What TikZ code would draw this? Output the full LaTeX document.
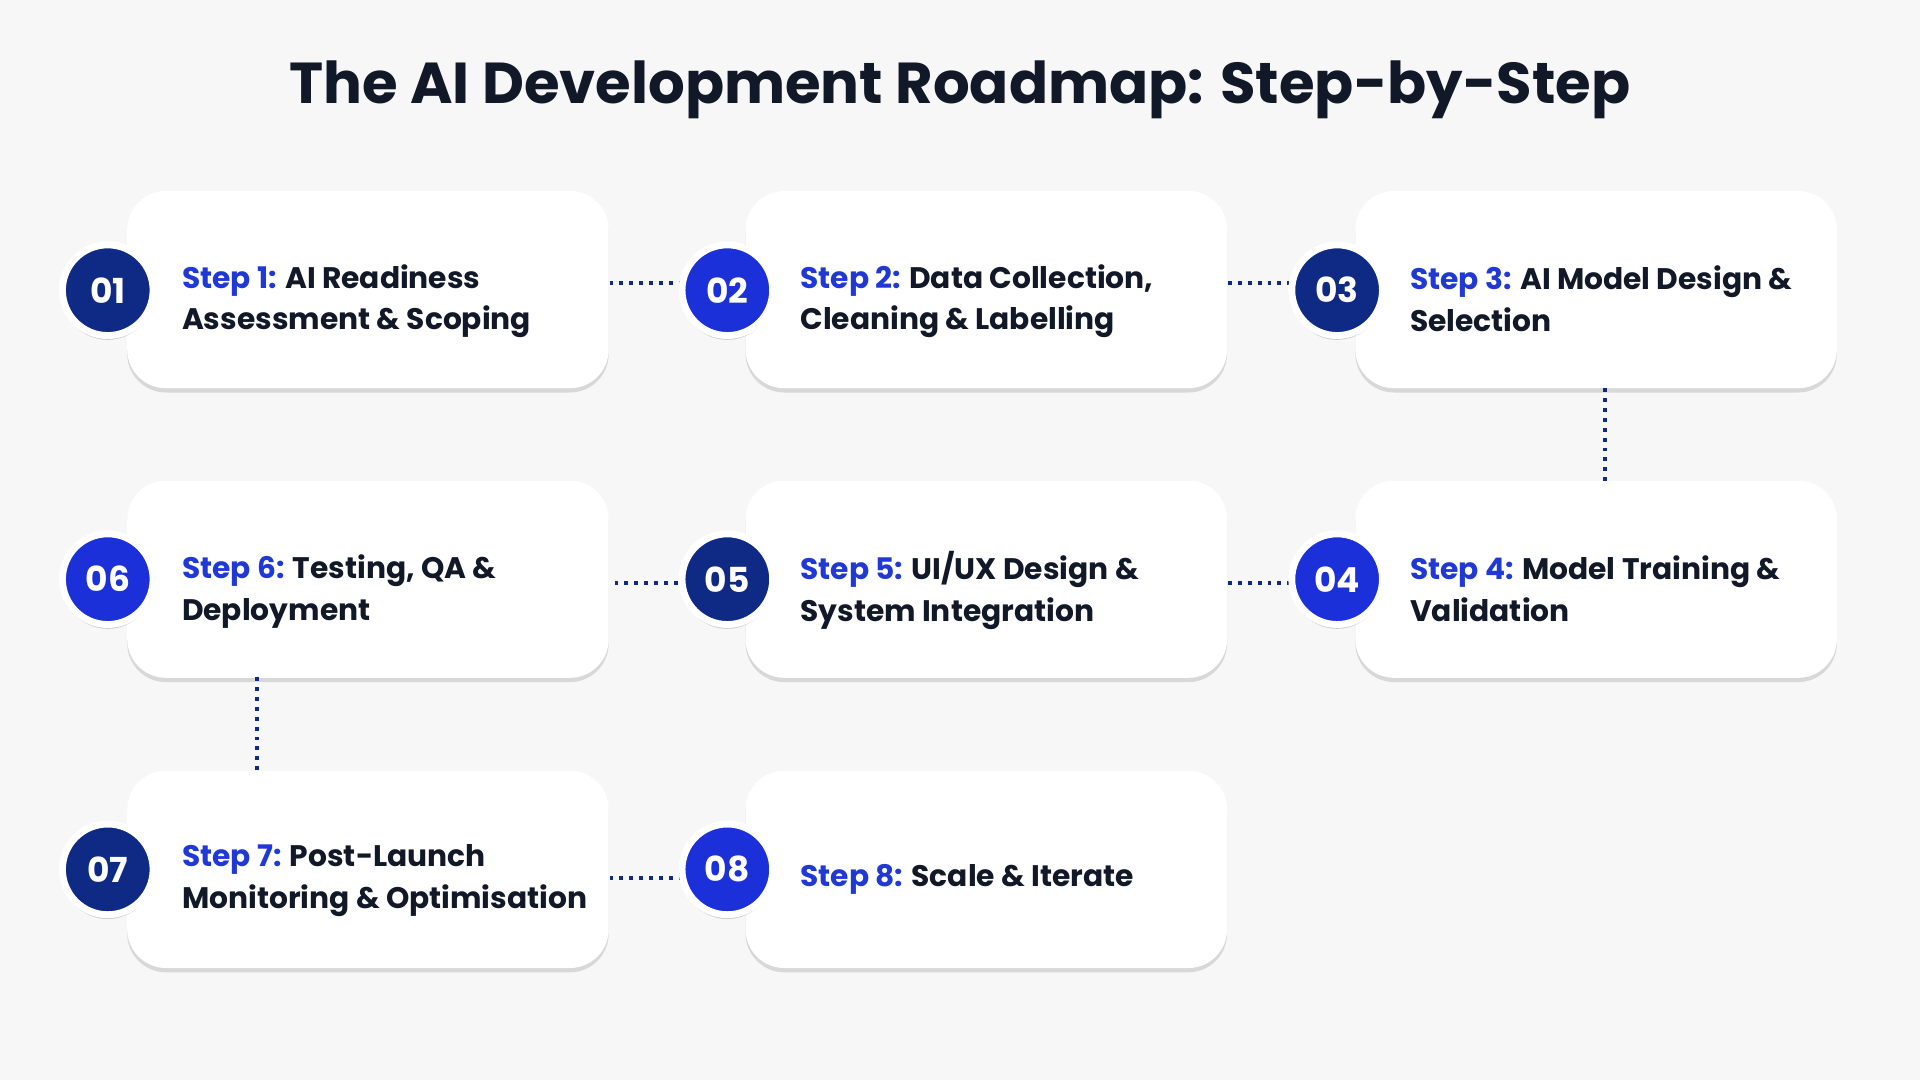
\documentclass[tikz,border=0pt]{standalone}
\usepackage{fontspec}
\setmainfont{Poppins}
\usetikzlibrary{shadows}
\definecolor{bg}{HTML}{F7F7F8}
\definecolor{navy}{HTML}{0E2A84}
\definecolor{bright}{HTML}{1B30D8}
\definecolor{stepblue}{HTML}{2139D4}
\definecolor{ink}{HTML}{111827}
\begin{document}
\begin{tikzpicture}[x=0.01cm,y=-0.01cm,
 card/.style={fill=white,rounded corners=9pt,minimum width=3.93cm,minimum height=1.61cm,inner sep=0,
   drop shadow={shadow xshift=0pt,shadow yshift=-1pt,opacity=0.12,fill=black}},
 num/.style={circle,minimum size=0.74cm,inner sep=0,draw=white,line width=1.6pt,text=white,
   font=\fontsize{8}{8}\selectfont\bfseries,drop shadow={shadow xshift=0pt,shadow yshift=-1pt,opacity=0.18,fill=black}},
 dk/.style={num,fill=navy}, br/.style={num,fill=bright},
 lbl/.style={anchor=west,align=left,inner sep=0,text=ink,font=\fontsize{6.9}{9.7}\selectfont\bfseries},
 link/.style={draw=navy,line width=0.9pt,dash pattern=on 0.9pt off 1.4pt}]
\fill[bg] (0,0) rectangle (1568,882);
\node[text=ink,font=\fontsize{13.4}{16}\selectfont\bfseries] (title) at (784,73) {The AI Development Roadmap: Step-by-Step};
% cards
\node[card] (c1) at (300.5,236.5) {};
\node[card] (c2) at (805.5,236.5) {};
\node[card] (c3) at (1303.5,236.5) {};
\node[card] (c6) at (300.5,473) {};
\node[card] (c5) at (805.5,473) {};
\node[card] (c4) at (1303.5,473) {};
\node[card] (c7) at (300.5,710) {};
\node[card] (c8) at (805.5,710) {};
% connectors
\coordinate (v3) at (1311,317); \coordinate (v4) at (1311,393);
\coordinate (v6) at (210,553); \coordinate (v7) at (210,630);
\draw[link] (v3) -- (v4);
\draw[link] (v6) -- (v7);
\draw[link] (c1.east |- 0,231) -- (594,231);
\draw[link] (c2.east |- 0,231) -- (1092,231);
\draw[link] (c5.east |- 0,476) -- (1092,476);
\draw[link] (594,476) -- (c6.east |- 0,476);
\draw[link] (c7.east |- 0,717) -- (594,717);
% circles
\node[dk] (n1) at (88,237) {01};
\node[br] (n2) at (594,237) {02};
\node[dk] (n3) at (1092,237) {03};
\node[br] (n4) at (1092,473) {04};
\node[dk] (n5) at (594,473) {05};
\node[br] (n6) at (88,473) {06};
\node[dk] (n7) at (88,710) {07};
\node[br] (n8) at (594,710) {08};
% labels
\node[lbl] (t1) at (148,246) {\textcolor{stepblue}{Step 1:} AI Readiness\\Assessment \& Scoping};
\node[lbl] (t2) at (653,246) {\textcolor{stepblue}{Step 2:} Data Collection,\\Cleaning \& Labelling};
\node[lbl] (t3) at (1151,244) {\textcolor{stepblue}{Step 3:} AI Model Design \&\\Selection};
\node[lbl] (t4) at (1151,481) {\textcolor{stepblue}{Step 4:} Model Training \&\\Validation};
\node[lbl] (t5) at (653,482) {\textcolor{stepblue}{Step 5:} UI/UX Design \&\\System Integration};
\node[lbl] (t6) at (148,483) {\textcolor{stepblue}{Step 6:} Testing, QA \&\\Deployment};
\node[lbl] (t7) at (148,719) {\textcolor{stepblue}{Step 7:} Post-Launch\\Monitoring \& Optimisation};
\node[lbl] (t8) at (653,718) {\textcolor{stepblue}{Step 8:} Scale \& Iterate};
\end{tikzpicture}
\end{document}
